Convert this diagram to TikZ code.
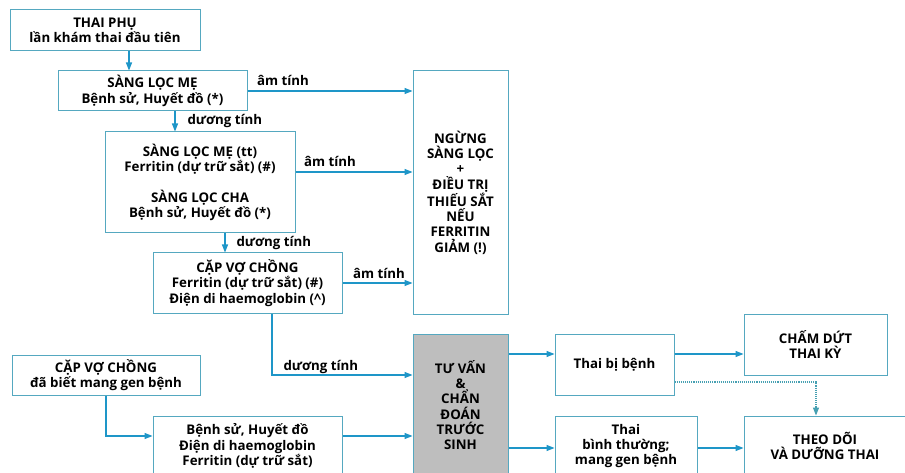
\documentclass[tikz,border=0pt]{standalone}
\usepackage{fontspec}
\setmainfont{Open Sans}
\usetikzlibrary{arrows.meta}
\definecolor{boxc}{RGB}{85,168,192}
\definecolor{arrc}{RGB}{30,150,200}
\definecolor{dotc}{RGB}{70,160,178}
\definecolor{shade}{RGB}{190,190,190}
\begin{document}
\begin{tikzpicture}[x=1pt,y=-1pt,
  box/.style={draw=boxc, line width=1pt, fill=white, align=center,
    font=\bfseries\fontsize{13.3}{15.3}\selectfont, inner sep=0pt},
  arr/.style={draw=arrc, line width=1.1pt, -{Triangle[length=8pt,width=6pt]}},
  lbl/.style={font=\bfseries\fontsize{13.3}{15}\selectfont, inner sep=0pt}]
\clip (0,0) rectangle (905,473);
\fill[white] (0,0) rectangle (905,473);

% screening column
\node[box, minimum width=190pt, minimum height=41pt] (b1) at (105,30.5)
  {THAI PHỤ\\ lần khám thai đầu tiên};
\node[box, minimum width=189pt, minimum height=40pt] (b2) at (152.5,91)
  {SÀNG LỌC MẸ\\ Bệnh sử, Huyết đồ (*)};
\node[box, minimum width=190pt, minimum height=101pt] (b3) at (200,182.5)
  {SÀNG LỌC MẸ (tt)\\ Ferritin (dự trữ sắt) (\#)\\[15.3pt] SÀNG LỌC CHA\\ Bệnh sử, Huyết đồ (*)};
\node[box, minimum width=189pt, minimum height=60pt] (b4) at (247.5,283)
  {CẶP VỢ CHỒNG\\ Ferritin (dự trữ sắt) (\#)\\ Điện di haemoglobin (\textasciicircum)};
\node[box, minimum width=95pt, minimum height=243pt] (stop) at (460.5,192.5)
  {NGỪNG\\ SÀNG LỌC\\ +\\ ĐIỀU TRỊ\\ THIẾU SẮT\\ NẾU\\ FERRITIN\\ GIẢM (!)};

% known carriers
\node[box, minimum width=188pt, minimum height=40pt] (b6) at (106,375)
  {CẶP VỢ CHỒNG\\ đã biết mang gen bệnh};
\node[box, minimum width=189pt, minimum height=60pt] (b7) at (247.5,446)
  {Bệnh sử, Huyết đồ\\ Điện di haemoglobin\\ Ferritin (dự trữ sắt)};

% prenatal diagnosis and outcomes
\node[box, fill=shade, minimum width=95pt, minimum height=142pt] (tuvan) at (460.5,405)
  {TƯ VẤN\\ \&\\ CHẨN\\ ĐOÁN\\ TRƯỚC\\ SINH};
\node[box, minimum width=119pt, minimum height=61pt] (benh) at (614.5,364.5)
  {Thai bị bệnh};
\node[box, minimum width=143pt, minimum height=61pt] (cham) at (815.5,344.5)
  {CHẤM DỨT\\ THAI KỲ};
\node[box, minimum width=142pt, minimum height=60pt] (binh) at (626,446)
  {Thai\\ bình thường;\\ mang gen bệnh};
\node[box, minimum width=162pt, minimum height=60pt] (theo) at (825,446)
  {THEO DÕI\\ VÀ DƯỠNG THAI};

% connectors
\draw[arr] (129,0 |- b1.south) -- (129,0 |- b2.north);
\draw[arr] (b2.east) -- node[lbl, pos=0, anchor=base west, xshift=9pt, yshift=5pt]{âm tính} (b2.east -| stop.west);
\draw[arr] (175,0 |- b2.south) -- node[lbl, midway, anchor=west, xshift=12pt]{dương tính} (175,0 |- b3.north);
\draw[arr] (b3.east |- 0,172) -- node[lbl, pos=0, anchor=base west, xshift=8pt, yshift=5pt]{âm tính} (stop.west |- 0,172);
\draw[arr] (225,0 |- b3.south) -- node[lbl, midway, anchor=west, xshift=11pt]{dương tính} (225,0 |- b4.north);
\draw[arr] (b4.east) -- node[lbl, pos=0, anchor=base west, xshift=10pt, yshift=5pt]{âm tính} (b4.east -| stop.west);
\draw[arr] (272,0 |- b4.south) |- node[lbl, pos=0.5, anchor=base west, xshift=11pt, yshift=5pt]{dương tính} (tuvan.west |- 0,375);
\draw[arr] (b6.south) |- (b7.west |- 0,436);
\draw[arr] (b7.east |- 0,436) -- (tuvan.west |- 0,436);
\draw[arr] (tuvan.east |- 0,354) -- (benh.west |- 0,354);
\draw[arr] (benh.east |- 0,354) -- (cham.west |- 0,354);
\draw[arr] (tuvan.east |- 0,448) -- (binh.west |- 0,448);
\draw[arr] (binh.east |- 0,448) -- (theo.west |- 0,448);
\draw[draw=dotc, line width=1.1pt, densely dotted, -{Triangle[length=8pt,width=6pt]}]
  (benh.east |- 0,382) -| (816,0 |- theo.north);
\end{tikzpicture}
\end{document}
